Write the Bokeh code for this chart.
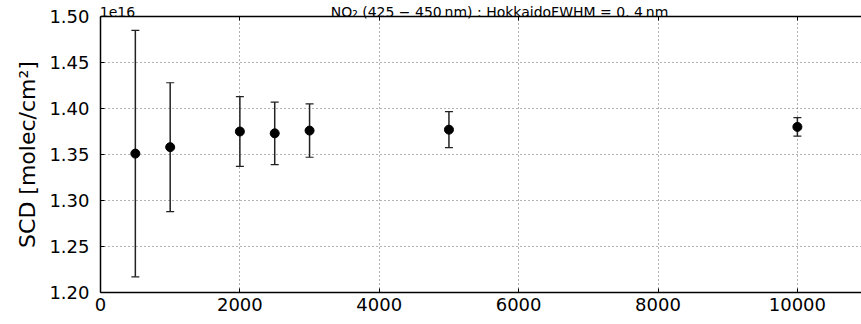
from bokeh.plotting import figure
from bokeh.models import (ColumnDataSource, Whisker, TeeHead, LinearAxis, FixedTicker,
                          SingleIntervalTicker, NumeralTickFormatter, Range1d)
from bokeh.embed import file_html
from bokeh.resources import INLINE

# data (SCD in units of 1e16 molec/cm^2)
resolution = [500, 1000, 2000, 2500, 3000, 5000, 10000]
scd = [1.351, 1.358, 1.375, 1.373, 1.376, 1.377, 1.380]
scd_err = [0.134, 0.070, 0.038, 0.034, 0.029, 0.0195, 0.010]
x_ticks = [0, 2000, 4000, 6000, 8000, 10000]

title_text = "NO\u2082 (425 \u2212 450\u2009nm) : HokkaidoFWHM = 0. 4\u2009nm"
y_label = "SCD [molec/cm\u00b2]"
exponent_text = "1e16"

lower = [v - e for v, e in zip(scd, scd_err)]
upper = [v + e for v, e in zip(scd, scd_err)]
src = ColumnDataSource(dict(x=resolution, y=scd, lo=lower, hi=upper))

FONT = "DejaVu Sans"

p = figure(width=861, height=324, output_backend="svg", toolbar_location=None,
           x_range=Range1d(0, 10920), y_range=Range1d(1.20, 1.50),
           min_border_left=100, min_border_right=0, min_border_top=16,
           min_border_bottom=32, outline_line_color=None)
p.background_fill_color = "white"
p.border_fill_color = "white"

for ax in (p.xaxis[0], p.yaxis[0]):
    ax.major_tick_in = 4
    ax.major_tick_out = 0
    ax.minor_tick_line_color = None
    ax.axis_line_width = 1.5
    ax.axis_line_color = "black"
    ax.major_tick_line_color = "black"
    ax.major_label_text_font = FONT
    ax.major_label_text_font_size = "18px"
    ax.major_label_text_color = "black"

p.xaxis[0].ticker = FixedTicker(ticks=x_ticks)
p.xaxis[0].major_label_standoff = 5
p.yaxis[0].ticker = SingleIntervalTicker(interval=0.05)
p.yaxis[0].formatter = NumeralTickFormatter(format="0.00")
p.yaxis[0].major_label_standoff = 7
p.yaxis[0].axis_label = y_label
p.yaxis[0].axis_label_text_font = FONT
p.yaxis[0].axis_label_text_font_size = "22px"
p.yaxis[0].axis_label_text_font_style = "normal"
p.yaxis[0].axis_label_text_color = "black"
p.yaxis[0].axis_label_standoff = 6

# top spine carrying the offset text and the title; inward ticks as minor ticks
exp_pos, title_pos = 244, 5725
top = LinearAxis(ticker=FixedTicker(ticks=[exp_pos, title_pos], minor_ticks=x_ticks),
                 major_label_overrides={exp_pos: exponent_text, title_pos: title_text},
                 major_tick_line_color=None, major_tick_in=0, major_tick_out=0,
                 minor_tick_in=4, minor_tick_out=0, minor_tick_line_color="black",
                 major_label_standoff=-3, major_label_text_font=FONT,
                 major_label_text_font_size="14px", major_label_text_color="black",
                 axis_line_width=1.5, axis_line_color="black")
p.add_layout(top, "above")

p.xgrid.ticker = FixedTicker(ticks=x_ticks)
p.ygrid.ticker = SingleIntervalTicker(interval=0.05)
for g in (p.xgrid[0], p.ygrid[0]):
    g.grid_line_color = "#666666"
    g.grid_line_dash = "1 3"
    g.grid_line_width = 1

w = Whisker(base="x", lower="lo", upper="hi", source=src, dimension="height",
            line_color="#222222", line_width=1.5,
            upper_head=TeeHead(size=8, line_color="#222222", line_width=1.2),
            lower_head=TeeHead(size=8, line_color="#222222", line_width=1.2))
p.add_layout(w)
p.scatter("x", "y", source=src, size=9, color="black")

open("out.html", "w").write(file_html(p, INLINE))
